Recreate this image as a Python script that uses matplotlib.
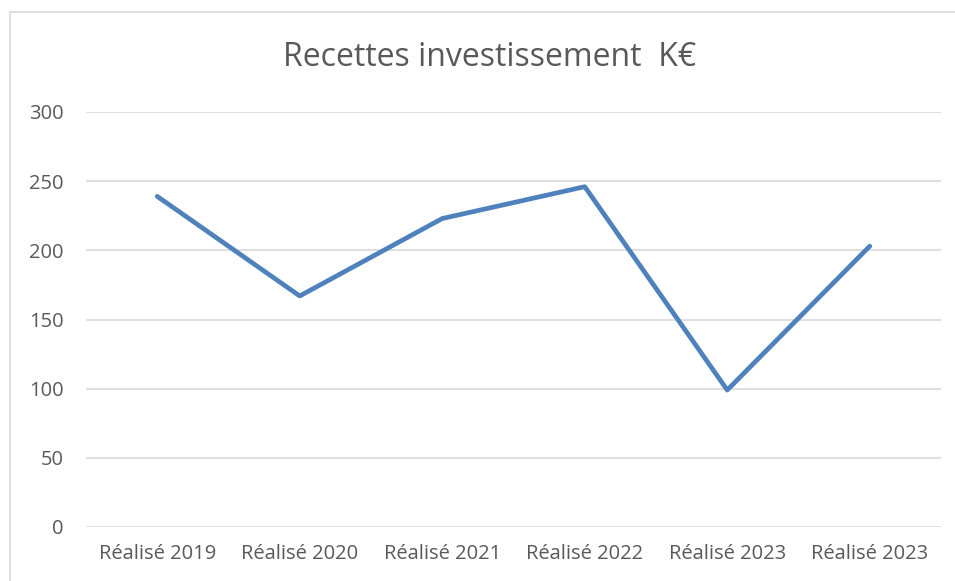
import matplotlib
matplotlib.use("Agg")
import matplotlib.pyplot as plt
from matplotlib.patches import Rectangle

# Data
categories = ["Réalisé 2019", "Réalisé 2020", "Réalisé 2021",
              "Réalisé 2022", "Réalisé 2023", "Réalisé 2023"]
recettes = [239, 167, 223, 246, 99, 203]
y_ticks = [0, 50, 100, 150, 200, 250, 300]

plt.rcParams['font.family'] = ['Open Sans', 'DejaVu Sans']
text_color = '#595959'

fig = plt.figure(figsize=(9.55, 5.81), dpi=100)
# light grey chart border
fig.patches.append(Rectangle((10 / 955, -0.1), 2, 1 - 12 / 581 + 0.1,
                             transform=fig.transFigure, fill=False,
                             edgecolor='#D9D9D9', linewidth=1.2))

ax = fig.add_axes([86 / 955, 1 - 527 / 581, (941 - 86) / 955, (527 - 112) / 581])
x = list(range(len(categories)))
ax.plot(x, recettes, color='#4F81BD', linewidth=3.4,
        solid_capstyle='round', solid_joinstyle='round', zorder=3)

ax.set_xlim(-0.5, len(categories) - 0.5)
ax.set_ylim(0, 300)
ax.set_yticks(y_ticks)
ax.set_xticks(x)
ax.set_xticklabels(categories)
ax.grid(axis='y', color='#D9D9D9', linewidth=1.2)
ax.set_axisbelow(True)
for s in ax.spines.values():
    s.set_visible(False)
ax.tick_params(length=0, colors=text_color, labelsize=14.5)
ax.tick_params(axis='y', pad=16)
ax.tick_params(axis='x', pad=12)

fig.text(490 / 955, 1 - 58 / 581, "Recettes investissement  K€",
         ha='center', va='center', fontsize=23, color=text_color)

fig.savefig("out.png", dpi=100)
